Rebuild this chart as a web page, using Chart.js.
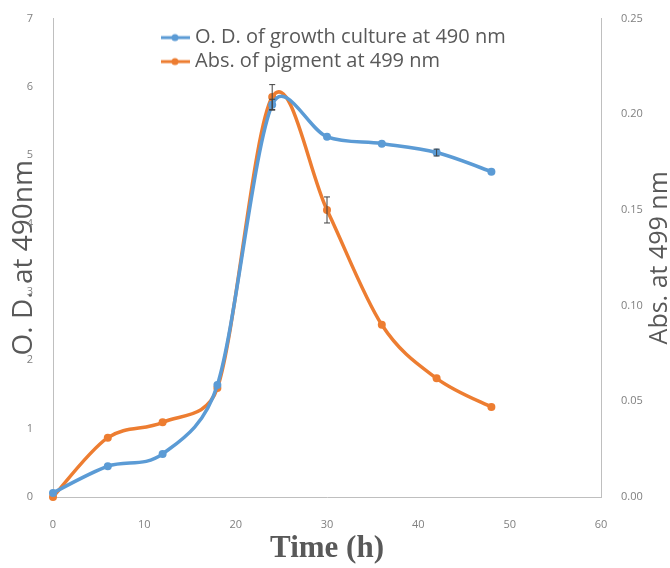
<!DOCTYPE html>
<html>
<head>
<meta charset="utf-8">
<script src="https://cdn.jsdelivr.net/npm/chart.js@4"></script>
<style>
  html, body { margin: 0; padding: 0; background: #fff; }
  #wrap { width: 670px; height: 568px; }
</style>
</head>
<body>
<div id="wrap"><canvas id="chart"></canvas></div>
<script>
const time = [0, 6, 12, 18, 24, 30, 36, 42, 48];
const odValues = [0.06, 0.45, 0.63, 1.64, 5.74, 5.27, 5.17, 5.04, 4.76];
const odErrors = [0, 0, 0, 0, 0.08, 0, 0, 0.05, 0];
const absValues = [0, 0.031, 0.039, 0.057, 0.209, 0.150, 0.090, 0.062, 0.047];
const absErrors = [0, 0, 0, 0, 0.0065, 0.0068, 0, 0, 0];
const seriesLabels = ['O. D. of growth culture at 490 nm', 'Abs. of pigment at 499 nm'];
const xTitle = 'Time (h)';
const yTitle = 'O. D. at 490nm';
const y2Title = 'Abs. at 499 nm';

const blue = '#5b9bd5';
const orange = '#ed7d31';

// little line + dot image for the legend
function legendMark(color) {
    const c = document.createElement('canvas');
    c.width = 30;
    c.height = 10;
    const g = c.getContext('2d');
    g.strokeStyle = color;
    g.lineWidth = 3;
    g.beginPath();
    g.moveTo(0, 5);
    g.lineTo(30, 5);
    g.stroke();
    g.fillStyle = color;
    g.beginPath();
    g.arc(15, 5, 3.5, 0, Math.PI * 2);
    g.fill();
    return c;
}

// office style smoothing: control points at +-(next - prev)/6,
// each side capped at half of its own segment
const officeSmooth = {
    id: 'officeSmooth',
    afterDatasetsUpdate(chart) {
        chart.data.datasets.forEach((ds, di) => {
            const meta = chart.getDatasetMeta(di);
            const pts = meta.data;
            pts.forEach((p, i) => {
                const prev = pts[i - 1] || p;
                const next = pts[i + 1] || p;
                const dx = (next.x - prev.x) / 6;
                const dy = (next.y - prev.y) / 6;
                const len = Math.hypot(dx, dy) || 1;
                const dPrev = Math.hypot(p.x - prev.x, p.y - prev.y);
                const dNext = Math.hypot(next.x - p.x, next.y - p.y);
                const kPrev = Math.min(1, dPrev / 2 / len);
                const kNext = Math.min(1, dNext / 2 / len);
                p.cp1x = p.x - dx * kPrev;
                p.cp1y = p.y - dy * kPrev;
                p.cp2x = p.x + dx * kNext;
                p.cp2y = p.y + dy * kNext;
            });
            meta.dataset._pointsUpdated = true;
        });
    }
};

const errorBars = {
    id: 'errorBars',
    afterDatasetsDraw(chart) {
        const ctx = chart.ctx;
        const x = chart.scales.x;
        ctx.save();
        ctx.strokeStyle = '#404040';
        ctx.lineWidth = 1;
        chart.data.datasets.forEach(ds => {
            const yScale = chart.scales[ds.yAxisID];
            ds.errors.forEach((e, i) => {
                if (!e) return;
                const px = x.getPixelForValue(time[i]);
                const top = yScale.getPixelForValue(ds.data[i].y + e);
                const bot = yScale.getPixelForValue(ds.data[i].y - e);
                ctx.beginPath();
                ctx.moveTo(px, top); ctx.lineTo(px, bot);
                ctx.moveTo(px - 3, top); ctx.lineTo(px + 3, top);
                ctx.moveTo(px - 3, bot); ctx.lineTo(px + 3, bot);
                ctx.stroke();
            });
        });
        ctx.restore();
    }
};

const extras = {
    id: 'extras',
    afterLayout(chart) {
        // legend sits inside the plot, upper middle
        chart.legend.left = 161;
        chart.legend.top = chart.chartArea.top + 5;
    },
    afterDraw(chart) {
        const y2 = chart.scales.y2;
        const ctx = chart.ctx;
        ctx.save();
        ctx.fillStyle = '#595959';
        ctx.font = '25px "Open Sans"';
        ctx.textAlign = 'center';
        ctx.textBaseline = 'alphabetic';
        ctx.translate(y2.right - 3, (y2.top + y2.bottom) / 2);
        ctx.rotate(-Math.PI / 2);
        ctx.fillText(y2Title, 0, 0);
        ctx.restore();
    }
};

new Chart(document.getElementById('chart'), {
    type: 'line',
    data: {
        datasets: [
            {
                label: seriesLabels[0],
                data: time.map((t, i) => ({x: t, y: odValues[i]})),
                errors: odErrors,
                yAxisID: 'y',
                borderColor: blue,
                backgroundColor: blue,
                borderWidth: 3.5,
                pointRadius: 4,
                pointBorderWidth: 0,
                tension: 0.4,
                clip: false
            },
            {
                label: seriesLabels[1],
                data: time.map((t, i) => ({x: t, y: absValues[i]})),
                errors: absErrors,
                yAxisID: 'y2',
                borderColor: orange,
                backgroundColor: orange,
                borderWidth: 3.5,
                pointRadius: 4,
                pointBorderWidth: 0,
                tension: 0.4,
                clip: false
            }
        ]
    },
    options: {
        responsive: true,
        maintainAspectRatio: false,
        animation: false,
        layout: { padding: { top: 17, left: 0, right: 0, bottom: 0 } },
        scales: {
            x: {
                type: 'linear',
                min: 0,
                max: 60,
                ticks: { stepSize: 10, padding: 13, color: '#808080', font: { family: 'Open Sans', size: 11 } },
                grid: { display: false },
                border: { color: '#bfbfbf' },
                title: {
                    display: true,
                    text: xTitle,
                    color: '#595959',
                    font: { family: 'Liberation Serif', size: 31, weight: 'bold' },
                    padding: { top: 0, bottom: 0 }
                },
                afterFit(s) { s.height = 71; }
            },
            y: {
                position: 'left',
                min: 0,
                max: 7,
                ticks: { stepSize: 1, padding: 12, color: '#808080', font: { family: 'Open Sans', size: 11 } },
                grid: { display: false },
                border: { color: '#bfbfbf' },
                title: {
                    display: true,
                    text: yTitle,
                    color: '#595959',
                    font: { family: 'Open Sans', size: 28 },
                    padding: { top: 7, bottom: 0 }
                },
                afterFit(s) { s.width = 53; }
            },
            y2: {
                position: 'right',
                min: 0,
                max: 0.25,
                ticks: {
                    stepSize: 0.05,
                    padding: 12,
                    color: '#808080',
                    font: { family: 'Open Sans', size: 11 },
                    callback: v => v.toFixed(2)
                },
                grid: { display: false },
                border: { color: '#bfbfbf' },
                afterFit(s) { s.width = 69; }
            }
        },
        plugins: {
            tooltip: { enabled: false },
            legend: {
                position: 'chartArea',
                align: 'start',
                labels: {
                    usePointStyle: true,
                    pointStyleWidth: 20,
                    padding: 4,
                    color: '#595959',
                    font: { family: 'Open Sans', size: 20 },
                    generateLabels(chart) {
                        const items = Chart.defaults.plugins.legend.labels.generateLabels(chart);
                        items.forEach((it, i) => {
                            it.pointStyle = legendMark(chart.data.datasets[i].borderColor);
                        });
                        return items;
                    }
                }
            }
        }
    },
    plugins: [officeSmooth, errorBars, extras]
});
</script>
</body>
</html>
